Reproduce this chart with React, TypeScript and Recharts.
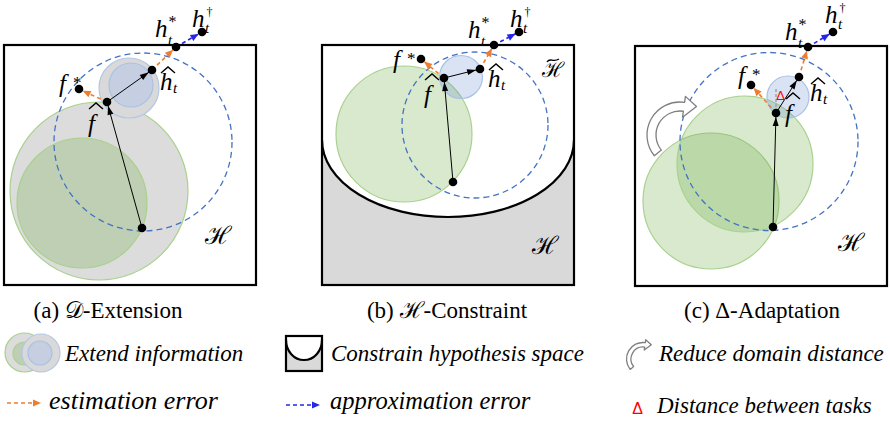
import React from 'react';
import { ScatterChart, Scatter, XAxis, YAxis } from 'recharts';

const W = 890;
const H = 424;

// panel boxes (top-left corner, size) and the cup that cuts panel (b) and its legend icon
const frames = [
  { x: 4, y: 45, w: 252, h: 240, cup: 0, depth: 0 },
  { x: 322, y: 45, w: 252, h: 240, cup: 140, depth: 77 },
  { x: 635, y: 46, w: 252, h: 240, cup: 0, depth: 0 },
  { x: 286, y: 336, w: 36, h: 35, cup: 340, depth: 20 },
];

// filled discs: domains / information sets
const circles = [
  { x: 99, y: 191, r: 89, kind: 'grayG' },
  { x: 82, y: 203, r: 65, kind: 'green' },
  { x: 129, y: 88, r: 30, kind: 'grayB' },
  { x: 131, y: 85, r: 22, kind: 'blue2' },
  { x: 404, y: 134, r: 68, kind: 'green' },
  { x: 461, y: 77, r: 21.5, kind: 'blue' },
  { x: 711, y: 201, r: 68, kind: 'green' },
  { x: 745, y: 164, r: 68, kind: 'green' },
  { x: 788, y: 97, r: 21, kind: 'blue' },
  // legend icon
  { x: 24.5, y: 352.5, r: 19.5, kind: 'grayG' },
  { x: 24.5, y: 353.5, r: 11.5, kind: 'green' },
  { x: 41, y: 353, r: 19, kind: 'grayB' },
  { x: 40, y: 353, r: 12, kind: 'blue2' },
];

// dashed hypothesis balls
const rings = [
  { x: 143, y: 142, r: 89 },
  { x: 475, y: 125, r: 73 },
  { x: 769, y: 141.5, r: 89 },
];

const nodesA = [
  { id: 'base', x: 142, y: 228 },
  { id: 'fhat', x: 107, y: 102 },
  { id: 'hhat', x: 152, y: 70 },
  { id: 'fstar', x: 79, y: 89 },
  { id: 'hstar', x: 176, y: 47 },
  { id: 'hdag', x: 202, y: 32 },
];
const nodesB = [
  { id: 'base', x: 453, y: 182 },
  { id: 'fhat', x: 444, y: 78 },
  { id: 'hhat', x: 480, y: 69 },
  { id: 'fstar', x: 421, y: 59 },
  { id: 'hstar', x: 494, y: 45 },
  { id: 'hdag', x: 519, y: 32 },
];
const nodesC = [
  { id: 'base', x: 773, y: 227 },
  { id: 'fhat', x: 776, y: 113 },
  { id: 'hhat', x: 799, y: 77 },
  { id: 'fstar', x: 751, y: 85 },
  { id: 'hstar', x: 808, y: 47 },
  { id: 'hdag', x: 833, y: 32 },
];

const links = [
  { from: 'base', to: 'fhat', kind: 'black' },
  { from: 'fhat', to: 'hhat', kind: 'black' },
  { from: 'fhat', to: 'fstar', kind: 'est' },
  { from: 'hhat', to: 'hstar', kind: 'est' },
  { from: 'hstar', to: 'hdag', kind: 'approx' },
];

const extraSegments = [
  { x1: 776, y1: 112, x2: 776, y2: 88, kind: 'guide' },
  { x1: 7, y1: 403, x2: 41, y2: 403, kind: 'est' },
  { x1: 286, y1: 405, x2: 320, y2: 405, kind: 'approx' },
];

// curved hollow arrows (centre of the arc, scale)
const curls = [
  { x: 680, y: 135, s: 1 },
  { x: 643, y: 359, s: 0.5 },
];

const mathLabels = [
  { x: 59, y: 92, kind: 'fstar' },
  { x: 88, y: 132, kind: 'fhat' },
  { x: 160, y: 90, kind: 'hhat' },
  { x: 155, y: 37, kind: 'hstar' },
  { x: 192, y: 27, kind: 'hdag' },
  { x: 205, y: 244, kind: 'H' },
  { x: 393, y: 68, kind: 'fstar' },
  { x: 424, y: 103, kind: 'fhat' },
  { x: 488, y: 87, kind: 'hhat' },
  { x: 468, y: 38, kind: 'hstar' },
  { x: 510, y: 27, kind: 'hdag' },
  { x: 542, y: 77, kind: 'Ht' },
  { x: 532, y: 254, kind: 'H' },
  { x: 738, y: 84, kind: 'fstar' },
  { x: 785, y: 122, kind: 'fhat' },
  { x: 810, y: 101, kind: 'hhat' },
  { x: 785, y: 40, kind: 'hstar' },
  { x: 825, y: 23, kind: 'hdag' },
  { x: 838, y: 251, kind: 'H' },
];

const deltas = [
  { x: 780.5, y: 100, size: 13 },
  { x: 637.5, y: 414, size: 16 },
];

const captions = [
  { x: 108, y: 318, pre: '(a) ', sym: '𝒟', post: '-Extension' },
  { x: 447, y: 318, pre: '(b) ', sym: 'ℋ', post: '-Constraint' },
  { x: 762, y: 318, pre: '(c) ', sym: 'Δ', post: '-Adaptation' },
];

const legendTexts = [
  { x: 65, y: 361, text: 'Extend information' },
  { x: 331, y: 361, text: 'Constrain hypothesis space' },
  { x: 659, y: 361, text: 'Reduce domain distance' },
  { x: 49, y: 409, text: 'estimation error' },
  { x: 330, y: 409, text: 'approximation error' },
  { x: 657, y: 413, text: 'Distance between tasks' },
];
const legendSizes = [23, 23, 23, 26, 24.5, 23];

const discStyle: Record<string, { fill: string; op: number; stroke: string }> = {
  grayG: { fill: '#dcdcdc', op: 1, stroke: '#a9d18e' },
  green: { fill: '#70ad47', op: 0.27, stroke: '#a9d18e' },
  grayB: { fill: '#d9d9d9', op: 1, stroke: '#b4c7e7' },
  blue: { fill: '#4472c4', op: 0.2, stroke: '#a9c1e6' },
  blue2: { fill: '#b4c7e7', op: 0.55, stroke: '#a9c1e6' },
};

const lineStyle: Record<string, { color: string; width: number; dash?: string; len: number; wid: number }> = {
  black: { color: '#000000', width: 1, len: 9, wid: 6 },
  est: { color: '#ed7d31', width: 1.6, dash: '4 3', len: 8, wid: 7 },
  approx: { color: '#2626e8', width: 1.6, dash: '4 3', len: 8, wid: 7 },
  guide: { color: '#a6a6a6', width: 1.6, dash: '3 2', len: 0, wid: 0 },
};

const serif = "'Liberation Serif', 'Times New Roman', serif";
const script = "'DejaVu Serif', serif";

function buildSegments() {
  const out: { kind: string; pts: any[] }[] = [];
  [nodesA, nodesB, nodesC].forEach((nodes) => {
    const get = (id: string) => nodes.find((n) => n.id === id)!;
    links.forEach((l) => {
      const a = get(l.from);
      const b = get(l.to);
      out.push({
        kind: l.kind,
        pts: [
          { x: a.x, y: a.y },
          { x: b.x, y: b.y, head: true, fx: a.x, fy: a.y, gap: 4, kind: l.kind },
        ],
      });
    });
  });
  extraSegments.forEach((s) => {
    out.push({
      kind: s.kind,
      pts: [
        { x: s.x1, y: s.y1 },
        { x: s.x2, y: s.y2, head: s.kind !== 'guide', fx: s.x1, fy: s.y1, gap: 0, kind: s.kind },
      ],
    });
  });
  return out;
}
const segments = buildSegments();

function frameShape(p: any) {
  const { cx, cy, payload: d } = p;
  if (!d.depth) {
    return <rect x={cx} y={cy} width={d.w} height={d.h} fill="#fff" stroke="#000" strokeWidth={2.2} />;
  }
  const cupY = cy + (d.cup - d.y);
  const rx = d.w / 2;
  return (
    <g>
      <rect x={cx} y={cy} width={d.w} height={d.h} fill="#fff" />
      <path
        d={`M${cx} ${cupY} A${rx} ${d.depth} 0 0 0 ${cx + d.w} ${cupY} L${cx + d.w} ${cy + d.h} L${cx} ${cy + d.h} Z`}
        fill="#d9d9d9"
      />
      <path d={`M${cx} ${cupY} A${rx} ${d.depth} 0 0 0 ${cx + d.w} ${cupY}`} fill="none" stroke="#000" strokeWidth={2.2} />
      <rect x={cx} y={cy} width={d.w} height={d.h} fill="none" stroke="#000" strokeWidth={2.2} />
    </g>
  );
}

function circleShape(p: any) {
  const d = p.payload;
  const s = discStyle[d.kind];
  return (
    <g>
      <circle cx={p.cx} cy={p.cy} r={d.r} fill={s.fill} fillOpacity={s.op} />
      <circle cx={p.cx} cy={p.cy} r={d.r} fill="none" stroke={s.stroke} strokeWidth={1.2} />
    </g>
  );
}

function ringShape(p: any) {
  return <circle cx={p.cx} cy={p.cy} r={p.payload.r} fill="none" stroke="#4472c4" strokeWidth={1.3} strokeDasharray="6 4" />;
}

function headShape(p: any) {
  const d = p.payload;
  if (!d.head) return <g />;
  const st = lineStyle[d.kind];
  const ang = Math.atan2(d.y - d.fy, d.x - d.fx);
  const c = Math.cos(ang);
  const s = Math.sin(ang);
  const tx = p.cx - c * d.gap;
  const ty = p.cy - s * d.gap;
  const bx = tx - c * st.len;
  const by = ty - s * st.len;
  const nx = (-s * st.wid) / 2;
  const ny = (c * st.wid) / 2;
  return <polygon points={`${tx},${ty} ${bx + nx},${by + ny} ${bx - nx},${by - ny}`} fill={st.color} />;
}

function dotShape(p: any) {
  return <circle cx={p.cx} cy={p.cy} r={4.3} fill="#000" />;
}

function curlShape(p: any) {
  const { cx, cy } = p;
  const k = p.payload.s;
  const pt = (r: number, deg: number) => {
    const a = (deg * Math.PI) / 180;
    return `${cx + r * k * Math.cos(a)} ${cy - r * k * Math.sin(a)}`;
  };
  const R = 33;
  const r = 24;
  const d = `M${pt(R, 219)} A${R * k} ${R * k} 0 0 1 ${pt(R, 82)} L${pt(39, 82)} L${pt(33, 60)} L${pt(18, 82)} L${pt(r, 82)} A${r * k} ${r * k} 0 0 0 ${pt(r, 219)} Z`;
  return <path d={d} fill="#fff" stroke="#7f7f7f" strokeWidth={1.3} strokeLinejoin="round" />;
}

function hat(x: number, y: number, w: number) {
  return <path d={`M${x} ${y + 6} L${x + w / 2} ${y} L${x + w} ${y + 6}`} fill="none" stroke="#000" strokeWidth={1.4} />;
}

type Script = { text: string; size: number; dx: number; dy: number; italic?: boolean };

// letter with optional superscript / subscript, as one text element
function mathText(x: number, y: number, main: string, sup?: Script, sub?: Script) {
  return (
    <text x={x} y={y} fontFamily={serif} fill="#000">
      <tspan fontSize={25} fontStyle="italic">{main}</tspan>
      {sup ? (
        <tspan x={x + sup.dx} y={y + sup.dy} fontSize={sup.size} fontStyle={sup.italic ? 'italic' : 'normal'}>
          {sup.text}
        </tspan>
      ) : null}
      {sub ? (
        <tspan x={x + sub.dx} y={y + sub.dy} fontSize={sub.size} fontStyle={sub.italic ? 'italic' : 'normal'}>
          {sub.text}
        </tspan>
      ) : null}
    </text>
  );
}

const subT = (dy: number): Script => ({ text: 't', size: 15, dx: 13, dy, italic: true });

function mathShape(p: any) {
  const x = p.cx;
  const y = p.cy;
  const k = p.payload.kind;
  if (k === 'fstar') return mathText(x, y, 'f', { text: '*', size: 17, dx: 14, dy: -4 });
  if (k === 'fhat') {
    return (
      <g>
        {mathText(x, y, 'f')}
        {hat(x + 1, y - 29, 14)}
      </g>
    );
  }
  if (k === 'hhat') {
    return (
      <g>
        {mathText(x, y, 'h', undefined, subT(3))}
        {hat(x + 1, y - 23, 14)}
      </g>
    );
  }
  if (k === 'hstar') return mathText(x, y, 'h', { text: '*', size: 16, dx: 13.5, dy: -10 }, subT(8));
  if (k === 'hdag') return mathText(x, y, 'h', { text: '†', size: 12, dx: 14.5, dy: -11 }, subT(6));
  if (k === 'Ht') {
    return (
      <g>
        <text x={x} y={y} fontSize={21} fontFamily={script}>ℋ</text>
        <path d={`M${x + 5} ${y - 15} C${x + 8} ${y - 20} ${x + 11} ${y - 14} ${x + 17} ${y - 18}`} fill="none" stroke="#000" strokeWidth={1.3} />
      </g>
    );
  }
  return <text x={x} y={y} fontSize={25} fontFamily={script}>ℋ</text>;
}

function captionShape(p: any) {
  const d = p.payload;
  return (
    <text x={p.cx} y={p.cy} fontSize={23} fontFamily={serif} textAnchor="middle" fill="#000">
      {d.pre}
      <tspan fontFamily={d.sym === 'Δ' ? serif : script}>{d.sym}</tspan>
      {d.post}
    </text>
  );
}

function legendShape(p: any) {
  const d = p.payload;
  const i = legendTexts.indexOf(d);
  return (
    <text x={p.cx} y={p.cy} fontSize={legendSizes[i] ?? 23} fontFamily={serif} fontStyle="italic" fill="#000">
      {d.text}
    </text>
  );
}

function deltaShape(p: any) {
  return (
    <text x={p.cx} y={p.cy} fontSize={p.payload.size} fontFamily="'Liberation Sans', sans-serif" textAnchor="middle" fill="#ff0000">
      Δ
    </text>
  );
}

const allDots = [...nodesA, ...nodesB, ...nodesC];

export default function App() {
  return (
    <div style={{ position: 'absolute', left: 0, top: 0, background: '#fff' }}>
      <ScatterChart width={W} height={H} margin={{ top: 0, right: 0, bottom: 0, left: 0 }}>
        <XAxis type="number" dataKey="x" domain={[0, W]} allowDataOverflow hide />
        <YAxis type="number" dataKey="y" domain={[0, H]} allowDataOverflow reversed hide />
        <Scatter data={frames} shape={frameShape} isAnimationActive={false} />
        <Scatter data={circles} shape={circleShape} isAnimationActive={false} />
        <Scatter data={rings} shape={ringShape} isAnimationActive={false} />
        <Scatter data={curls} shape={curlShape} isAnimationActive={false} />
        {segments.map((s, i) => {
          const st = lineStyle[s.kind];
          return (
            <Scatter
              key={`seg-${i}`}
              data={s.pts}
              fill={st.color}
              line={{ stroke: st.color, strokeWidth: st.width, strokeDasharray: st.dash }}
              shape={headShape}
              isAnimationActive={false}
            />
          );
        })}
        <Scatter data={allDots} shape={dotShape} isAnimationActive={false} />
        <Scatter data={deltas} shape={deltaShape} isAnimationActive={false} />
        <Scatter data={mathLabels} shape={mathShape} isAnimationActive={false} />
        <Scatter data={captions} shape={captionShape} isAnimationActive={false} />
        <Scatter data={legendTexts} shape={legendShape} isAnimationActive={false} />
      </ScatterChart>
    </div>
  );
}
